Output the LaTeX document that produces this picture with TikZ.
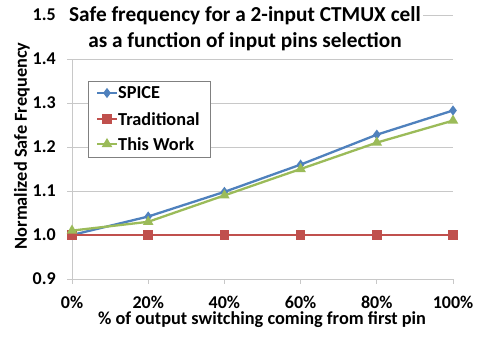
\documentclass[tikz,border=0pt]{standalone}
\usepackage{fontspec}
\setmainfont{Carlito}
\usetikzlibrary{plotmarks}
\definecolor{spiceblue}{RGB}{79,129,189}
\definecolor{tradred}{RGB}{192,80,77}
\definecolor{workgreen}{RGB}{155,187,89}
\definecolor{gridgray}{RGB}{200,200,200}

\tikzset{
  ticklabel/.style={font=\bfseries\fontsize{18}{20}\selectfont, inner sep=0pt},
  axislabel/.style={font=\bfseries\fontsize{18.3}{20}\selectfont},
  spiceline/.style={spiceblue, line width=2.3pt, mark=diamond*, mark size=3.2pt, mark options={solid,fill=spiceblue}},
  tradline/.style={tradred, line width=2.3pt, mark=square*, mark size=3.6pt, mark options={solid,fill=tradred}},
  workline/.style={workgreen, line width=2.3pt, mark=triangle*, mark size=3.8pt, mark options={solid,fill=workgreen}},
}

\begin{document}
\begin{tikzpicture}[x=1pt,y=1pt]
  \useasboundingbox[fill=white] (0,0) rectangle (478,-337);

  % plot area: x in percent, y in normalized frequency
  \begin{scope}[shift={(72,-675)},x=3.81pt,y=440pt]
    \foreach \v in {1.0,1.1,1.2,1.3,1.4,1.5}
      \draw[gridgray, line width=0.8pt] (0,\v) -- (100,\v);
    \draw[gridgray, line width=0.8pt] (0,0.9) -- (100,0.9);
    \draw[gridgray, line width=0.8pt] (0,0.9) -- (0,1.4);
    \foreach \v in {0.9,1.0,1.1,1.2,1.3,1.4,1.5} {
      \draw[gridgray, line width=0.8pt] (0,\v) -- ++(-5pt,0);
      \node[ticklabel, anchor=east] (ylab\v) at ([xshift=-16pt]0,\v) {\v};
    }
    \foreach \x in {0,20,40,60,80,100} {
      \draw[gridgray, line width=0.8pt] (\x,0.9) -- ++(0,-5pt);
      \node[ticklabel] (xlab\x) at ([yshift=-23pt]\x,0.9) {\x\%};
    }

    \draw[spiceline] plot coordinates {(0,1.0) (20,1.042) (40,1.098) (60,1.16) (80,1.228) (100,1.283)};
    \draw[tradline] plot coordinates {(0,1.0) (20,1.0) (40,1.0) (60,1.0) (80,1.0) (100,1.0)};
    \draw[workline] plot coordinates {(0,1.01) (20,1.03) (40,1.09) (60,1.15) (80,1.21) (100,1.26)};
  \end{scope}

  % title
  \node[fill=white, align=center, inner sep=2pt, font=\bfseries\fontsize{21.3}{26}\selectfont] (title) at (245,-29)
    {Safe frequency for a 2-input CTMUX cell\\as a function of input pins selection};

  % axis titles
  \node[axislabel, rotate=90] (ytitle) at (22,-146) {Normalized Safe Frequency};
  \node[axislabel, inner sep=0pt] (xtitle) at (262,-320) {\% of output switching coming from first pin};

  % legend
  \draw[gray, fill=white, line width=0.6pt] (88,-81) rectangle (210,-157);
  \draw[spiceline, mark indices={2}] plot coordinates {(97,-93) (107,-93) (117,-93)};
  \node[axislabel, anchor=west, inner sep=1pt] (legspice) at (117,-93) {SPICE};
  \draw[tradline, mark indices={2}] plot coordinates {(97,-119) (107,-119) (117,-119)};
  \node[axislabel, anchor=west, inner sep=1pt] (legtrad) at (117,-119) {Traditional};
  \draw[workline, mark indices={2}] plot coordinates {(97,-144) (107,-144) (117,-144)};
  \node[axislabel, anchor=west, inner sep=1pt] (legwork) at (117,-144) {This Work};
\end{tikzpicture}
\end{document}
